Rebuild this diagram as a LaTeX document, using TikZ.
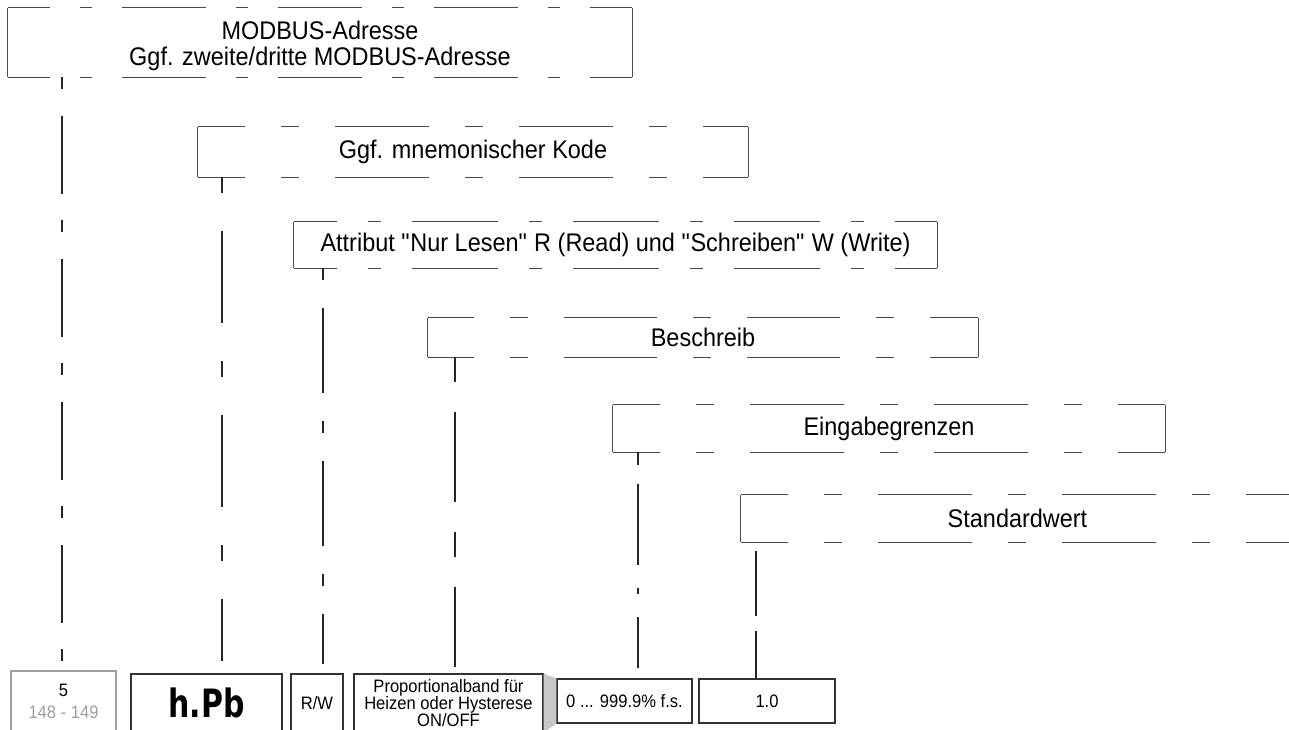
\documentclass[tikz,border=0pt]{standalone}
\usepackage{fontspec}
\setmainfont{Liberation Sans}[FakeStretch=0.92]
\newfontfamily\segfont{DejaVu Sans}
\usepackage{graphicx}
\usepackage{tikz}
\definecolor{gray800}{HTML}{333333}
\definecolor{gray600}{HTML}{4A4A4A}
\definecolor{gray400}{HTML}{9E9E9E}
\definecolor{gray300}{HTML}{C8C8C8}
\tikzstyle{kasten}=[inner sep=0pt, align=center, font=\fontsize{25.5}{26}\selectfont]
\tikzstyle{rand}=[draw=gray600, line width=1.2pt]
\tikzstyle{wert}=[draw=gray800, line width=1.1pt, inner sep=0pt, align=center, font=\fontsize{18}{17}\selectfont]
\tikzstyle{linie}=[draw=black!85, line width=2pt]
\tikzstyle{falz}=[fill=gray300]

% #1 Knoten, #2 langer Strich, #3 kurzer Strich, #4 Luecke
\newcommand{\strichrand}[4]{%
  \path[rand] (#1.north west) -- (#1.south west) (#1.north east) -- (#1.south east);
  \path[rand, dash pattern=on #2pt off #4pt on #3pt off #4pt, dash phase=0.5*#2pt]
    (#1.north west) -- (#1.north east) (#1.south west) -- (#1.south east);}

\begin{document}
\begin{tikzpicture}[x=1pt, y=-1pt]
  \useasboundingbox (0,0) rectangle (1289,729);
  \clip (0,0) rectangle (1289,729);
  % obere Kaesten
  \node[kasten, minimum width=624pt, minimum height=69pt] (adr) at (320,42.5) {\rule{0pt}{26pt}MODBUS-Adresse\\Ggf. zweite/dritte MODBUS-Adresse};
  \node[kasten, minimum width=550pt, minimum height=50pt] (mne) at (473,152) {Ggf. mnemonischer Kode};
  \node[kasten, minimum width=643pt, minimum height=46pt] (att) at (615.5,245) {Attribut \textquotedbl Nur Lesen\textquotedbl{} R (Read) und \textquotedbl Schreiben\textquotedbl{} W (Write)};
  \node[kasten, minimum width=550pt, minimum height=39pt] (bes) at (703,337.5) {Beschreib};
  \node[kasten, minimum width=552pt, minimum height=47pt] (ein) at (889,428.5) {Eingabegrenzen};
  \node[kasten, minimum width=553pt, minimum height=47pt] (std) at (1017.5,518.5) {Standardwert};
  \strichrand{adr}{84}{12}{30}
  \strichrand{mne}{94}{18}{36}
  \strichrand{att}{86}{13}{31}
  \strichrand{bes}{93}{18}{36}
  \strichrand{ein}{94}{18}{36}
  \strichrand{std}{94}{18}{36}
  % untere Zeile
  \node[wert, draw=gray400, minimum width=105pt, minimum height=61pt, font=\fontsize{18}{22.5}\selectfont] (wadr) at (63.5,701.5) {5\\\textcolor{gray400}{148 - 149}};
  \node[wert, minimum width=151pt, minimum height=58pt] (wmne) at (206.5,703) {\segfont\bfseries\fontsize{30}{30}\selectfont\scalebox{1}[1.3]{h.Pb}};
  \node[wert, minimum width=52pt, minimum height=58pt] (watt) at (317,703) {R/W};
  \node[wert, minimum width=189pt, minimum height=58pt] (wbes) at (448.5,703) {Proportionalband für\\Heizen oder Hysterese\\ON/OFF};
  \node[wert, minimum width=135pt, minimum height=44pt] (wein) at (624.5,701) {0 ... 999.9\% f.s.};
  \node[wert, minimum width=136pt, minimum height=44pt] (wstd) at (767,701) {1.0};
  \fill[falz] (wbes.north east) -- (wein.north west) -- (wein.south west) -- (wbes.south east) -- cycle;
  % Verbindungen
  \path[linie, dash pattern=on 12pt off 27pt on 78pt off 26pt, shorten >=9pt] ([xshift=54pt]adr.south west) -- ([xshift=54pt]adr.south west |- wadr.north);
  \path[linie, dash pattern=on 16pt off 38pt on 92pt off 38pt, shorten >=12pt] ([xshift=24pt]mne.south west) -- ([xshift=24pt]mne.south west |- wmne.north);
  \path[linie, dash pattern=on 12pt off 28pt on 85pt off 28pt, shorten >=9pt] ([xshift=29pt]att.south west) -- ([xshift=29pt]att.south west |- watt.north);
  \path[linie, dash pattern=on 25pt off 30pt on 90pt off 30pt, shorten >=6pt] ([xshift=27pt]bes.south west) -- ([xshift=27pt]bes.south west |- wbes.north);
  \path[linie, dash pattern=on 13pt off 19pt on 81pt off 23pt on 6pt off 23pt on 60pt off 100pt, shorten >=10pt] ([xshift=25pt]ein.south west) -- ([xshift=25pt]ein.south west |- wein.north);
  \path[linie, dash pattern=on 65pt off 15pt on 100pt, shorten <=9pt] ([xshift=15pt]std.south west) -- ([xshift=15pt]std.south west |- wstd.north);
\end{tikzpicture}
\end{document}
